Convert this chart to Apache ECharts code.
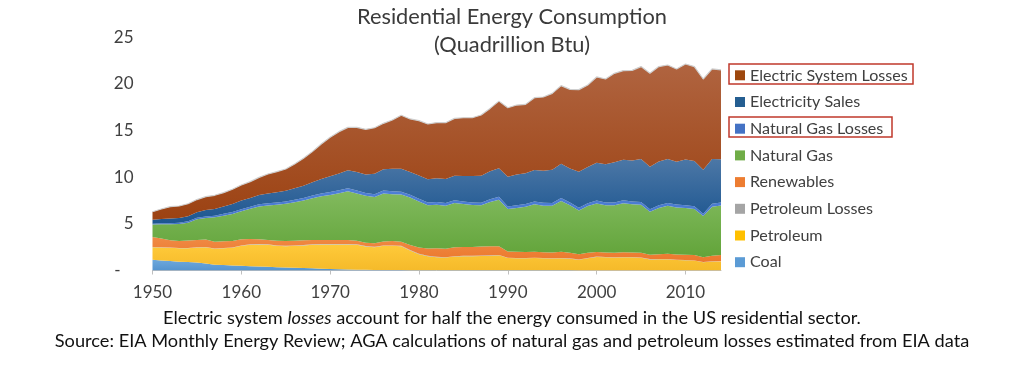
<!DOCTYPE html>
<html><head><meta charset="utf-8">
<script src="https://cdn.jsdelivr.net/npm/echarts@6/dist/echarts.min.js"></script>
<style>html,body{margin:0;padding:0;background:#fff}#c{width:1024px;height:365px}</style>
</head><body><div id="c"></div>
<script>
const years = ['1950','1951','1952','1953','1954','1955','1956','1957','1958','1959',
'1960','1961','1962','1963','1964','1965','1966','1967','1968','1969',
'1970','1971','1972','1973','1974','1975','1976','1977','1978','1979',
'1980','1981','1982','1983','1984','1985','1986','1987','1988','1989',
'1990','1991','1992','1993','1994','1995','1996','1997','1998','1999',
'2000','2001','2002','2003','2004','2005','2006','2007','2008','2009',
'2010','2011','2012','2013','2014'];

const coal = [1.15,1.08,1.02,0.95,0.90,0.85,0.75,0.62,0.58,0.54,
0.50,0.46,0.43,0.40,0.36,0.33,0.30,0.26,0.23,0.20,
0.17,0.14,0.11,0.09,0.08,0.06,0.06,0.05,0.05,0.04,
0.03,0.03,0.03,0.03,0.04,0.04,0.04,0.04,0.04,0.03,
0.03,0.03,0.03,0.03,0.02,0.02,0.02,0.02,0.01,0.01,
0.01,0.01,0.01,0.01,0.01,0.01,0.01,0.01,0.01,0.01,
0.01,0.01,0.01,0.01,0.01];

const petroleum = [1.35,1.38,1.41,1.44,1.49,1.61,1.75,1.70,1.81,1.89,
2.14,2.29,2.36,2.35,2.28,2.28,2.34,2.42,2.52,2.59,
2.62,2.65,2.68,2.66,2.49,2.44,2.58,2.59,2.56,2.10,
1.72,1.50,1.40,1.35,1.45,1.50,1.50,1.52,1.55,1.60,
1.30,1.28,1.27,1.30,1.28,1.27,1.30,1.25,1.15,1.30,
1.45,1.42,1.38,1.42,1.40,1.35,1.18,1.20,1.20,1.12,
1.10,1.05,0.88,0.95,0.95];

const petroleumLosses = [0.03,0.03,0.03,0.03,0.03,0.03,0.03,0.03,0.03,0.03,
0.05,0.05,0.05,0.05,0.05,0.05,0.05,0.05,0.05,0.05,
0.05,0.05,0.05,0.05,0.05,0.05,0.05,0.05,0.05,0.05,
0.04,0.04,0.04,0.04,0.04,0.04,0.04,0.04,0.04,0.04,
0.03,0.03,0.03,0.03,0.03,0.03,0.03,0.03,0.03,0.03,
0.03,0.03,0.03,0.03,0.03,0.03,0.03,0.03,0.03,0.03,
0.02,0.02,0.02,0.02,0.02];

const renewables = [1.07,0.93,0.78,0.75,0.79,0.79,0.79,0.72,0.72,0.71,
0.65,0.57,0.50,0.46,0.50,0.50,0.50,0.50,0.46,0.42,
0.42,0.42,0.42,0.39,0.36,0.36,0.43,0.47,0.43,0.54,
0.68,0.79,0.92,0.92,0.96,0.94,0.94,0.96,0.96,0.92,
0.68,0.67,0.66,0.64,0.62,0.62,0.66,0.60,0.55,0.56,
0.50,0.48,0.48,0.50,0.50,0.50,0.47,0.50,0.55,0.55,
0.56,0.57,0.52,0.60,0.68];

const naturalGas = [1.32,1.53,1.71,1.82,1.92,2.21,2.31,2.63,2.74,2.89,
3.02,3.24,3.52,3.70,3.85,3.98,4.13,4.27,4.49,4.70,
4.84,5.02,5.24,5.06,5.02,4.97,5.13,5.02,5.05,5.08,
4.93,4.64,4.66,4.61,4.75,4.60,4.50,4.44,4.76,5.00,
4.55,4.70,4.85,5.10,5.00,5.00,5.45,5.10,4.70,5.00,
5.20,5.05,5.10,5.25,5.15,5.15,4.60,4.95,5.15,5.05,
5.00,4.95,4.40,5.25,5.30];

const naturalGasLosses = [0.10,0.11,0.12,0.13,0.14,0.15,0.16,0.18,0.19,0.20,
0.21,0.22,0.23,0.24,0.25,0.26,0.27,0.28,0.29,0.30,
0.30,0.31,0.32,0.31,0.31,0.30,0.31,0.31,0.30,0.30,
0.29,0.28,0.28,0.28,0.29,0.28,0.27,0.27,0.29,0.30,
0.28,0.28,0.29,0.30,0.30,0.30,0.32,0.30,0.28,0.30,
0.31,0.30,0.30,0.31,0.30,0.30,0.27,0.29,0.30,0.30,
0.30,0.29,0.26,0.31,0.32];

const electricitySales = [0.43,0.47,0.49,0.51,0.55,0.60,0.70,0.72,0.78,0.87,
0.93,0.95,1.00,1.05,1.10,1.15,1.22,1.30,1.42,1.55,
1.70,1.80,1.92,2.00,1.98,2.20,2.30,2.40,2.45,2.45,
2.50,2.50,2.55,2.57,2.63,2.73,2.84,2.89,3.00,3.06,
3.18,3.31,3.28,3.37,3.45,3.55,3.65,3.62,3.85,3.90,
4.05,4.10,4.30,4.35,4.40,4.60,4.55,4.70,4.70,4.60,
4.90,4.85,4.70,4.80,4.65];

const electricSystemLosses = [0.85,1.06,1.28,1.28,1.33,1.36,1.42,1.46,1.49,1.57,
1.66,1.74,1.89,2.09,2.20,2.33,2.60,2.94,3.28,3.75,
4.17,4.49,4.60,4.78,4.84,4.92,4.91,5.24,5.74,5.68,
5.87,5.92,5.97,6.04,6.14,6.24,6.24,6.50,6.73,7.20,
7.39,7.43,7.39,7.75,7.89,8.19,8.38,8.49,8.81,8.78,
9.19,9.13,9.53,9.55,9.66,9.91,10.02,10.17,10.08,9.94,
10.24,10.11,9.73,9.66,9.56];

const legendOrder = ['Electric System Losses','Electricity Sales','Natural Gas Losses','Natural Gas','Renewables','Petroleum Losses','Petroleum','Coal'];

const FONT = 'Lato';
const chart = echarts.init(document.getElementById('c'), null, {renderer:'canvas'});

function grad(top, bottom) {
  return new echarts.graphic.LinearGradient(0, 0, 0, 1, [
    {offset: 0, color: top}, {offset: 1, color: bottom}
  ]);
}
function mk(name, data, base, top, bottom, line) {
  return {
    name: name, type: 'line', stack: 'total', data: data,
    showSymbol: false, symbol: 'none', smooth: false,
    itemStyle: {color: base},
    lineStyle: line || {opacity: 0, width: 0},
    areaStyle: {color: grad(top, bottom), opacity: 1},
    emphasis: {disabled: true}, silent: true
  };
}

const decade = (i, v) => (+v) % 10 === 0;

chart.setOption({
  animation: false,
  backgroundColor: '#ffffff',
  title: [
    {text: 'Residential Energy Consumption\n(Quadrillion Btu)', left: 'center', top: 3, padding: 0,
     textStyle: {fontFamily: FONT, fontSize: 21.8, fontWeight: 'normal', color: '#3A3A3A', lineHeight: 28}},
    {text: 'Electric system {i|losses} account for half the energy consumed in the US residential sector.',
     left: 'center', top: 307, padding: 0,
     textStyle: {fontFamily: FONT, fontSize: 18.2, fontWeight: 'normal', color: '#111', lineHeight: 22,
       rich: {i: {fontFamily: FONT, fontSize: 18.2, fontStyle: 'italic', color: '#111'}}}},
    {text: 'Source: EIA Monthly Energy Review; AGA calculations of natural gas and petroleum losses estimated from EIA data',
     left: 'center', top: 330, padding: 0,
     textStyle: {fontFamily: FONT, fontSize: 18.2, fontWeight: 'normal', color: '#111', lineHeight: 22}}
  ],
  legend: {
    data: legendOrder, orient: 'vertical', left: 735, top: 67.3, padding: 0,
    icon: 'rect', itemWidth: 10, itemHeight: 10, itemGap: 10.7,
    itemStyle: {borderWidth: 0},
    textStyle: {fontFamily: FONT, fontSize: 16.1, color: '#404040', lineHeight: 16},
    selectedMode: false
  },
  grid: {left: 152.5, right: 303, top: 37.2, bottom: 94.5, containLabel: false},
  xAxis: {
    type: 'category', data: years, boundaryGap: false,
    axisLine: {lineStyle: {color: '#BFBFBF', width: 1}},
    axisTick: {show: true, interval: decade, length: 4, lineStyle: {color: '#BFBFBF'}},
    axisLabel: {interval: decade, margin: 14, fontFamily: FONT, fontSize: 17, color: '#404040'},
    splitLine: {show: false}
  },
  yAxis: {
    type: 'value', min: 0, max: 25, interval: 5,
    axisLine: {show: false}, axisTick: {show: false}, splitLine: {show: false},
    axisLabel: {margin: 19, fontFamily: FONT, fontSize: 17, color: '#404040',
      formatter: v => v === 0 ? '-   ' : String(v)}
  },
  graphic: [
    {type: 'rect', shape: {x: 729, y: 64, width: 184, height: 20}, style: {fill: 'none', stroke: '#C0392B', lineWidth: 1.5}, silent: true},
    {type: 'rect', shape: {x: 729, y: 117, width: 163, height: 20}, style: {fill: 'none', stroke: '#C0392B', lineWidth: 1.5}, silent: true}
  ],
  series: [
    mk('Coal', coal, '#5B9BD5', '#6EA8DC', '#5594CF'),
    mk('Petroleum', petroleum, '#FFC000', '#FFCA3A', '#F5BA2A'),
    mk('Petroleum Losses', petroleumLosses, '#A5A5A5', '#B0B0B0', '#A0A0A0'),
    mk('Renewables', renewables, '#ED7D31', '#F08A45', '#EB782C'),
    mk('Natural Gas', naturalGas, '#70AD47', '#82BA5E', '#62A43A'),
    mk('Natural Gas Losses', naturalGasLosses, '#4472C4', '#4F80D6', '#4676CC'),
    mk('Electricity Sales', electricitySales, '#255E91', '#4C77A6', '#1C5690'),
    mk('Electric System Losses', electricSystemLosses, '#9E480E', '#B06440', '#9C4212',
       {color: '#CFCFCF', width: 1.2})
  ]
});
</script></body></html>
